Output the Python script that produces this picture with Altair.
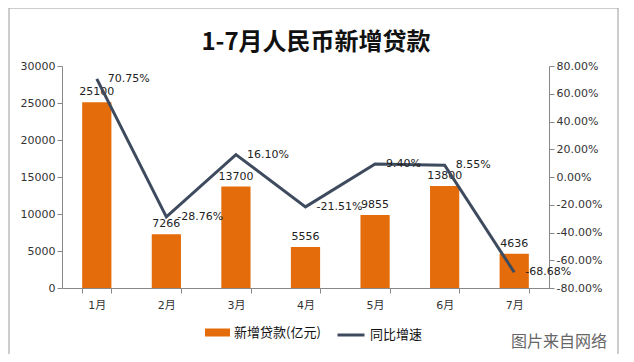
import altair as alt
import pandas as pd

months = ["1月", "2月", "3月", "4月", "5月", "6月", "7月"]
loans = [25100, 7266, 13700, 5556, 9855, 13800, 4636]
growth = [70.75, -28.76, 16.10, -21.51, 9.40, 8.55, -68.68]
bar_name = "新增贷款(亿元)"
line_name = "同比增速"
title_text = "1-7月人民币新增贷款"
watermark = "图片来自网络"
left_ticks = [0, 5000, 10000, 15000, 20000, 25000, 30000]
right_ticks = [-80, -60, -40, -20, 0, 20, 40, 60, 80]

df = pd.DataFrame({"month": months, "loans": loans, "growth": growth})
df["gtxt"] = [f"{g:.2f}%" for g in growth]
df["s1"] = bar_name
df["s2"] = line_name

ORANGE = "#E46C0A"
NAVY = "#3E4B5E"
FONT = "DejaVu Sans, Noto Sans CJK SC"
CJK = "Noto Sans CJK SC"

xenc = alt.X("month:N", sort=months, title=None,
             scale=alt.Scale(paddingInner=0.58, paddingOuter=0.29),
             axis=alt.Axis(labelAngle=0, tickBand="extent", labelFont=FONT,
                           labelFontSize=11, labelColor="#333333", domainColor="#888888",
                           tickColor="#888888", tickSize=5, labelPadding=6))

left_axis = alt.Axis(orient="left", values=left_ticks, format="d", grid=False,
                     labelOverlap=False, labelFont=FONT, labelFontSize=11,
                     labelColor="#333333", domainColor="#888888", tickColor="#888888",
                     tickSize=5)
right_axis = alt.Axis(orient="right", values=right_ticks,
                      labelExpr="replace(format(datum.value, '.2f'), '\u2212', '-') + '%'",
                      grid=False, labelOverlap=False, labelFont=FONT, labelFontSize=11,
                      labelColor="#333333", domainColor="#888888", tickColor="#888888",
                      tickSize=5)
yl_scale = alt.Scale(domain=[0, 30000], nice=False)
yr_scale = alt.Scale(domain=[-80, 80], nice=False)

base = alt.Chart(df)

bars = base.mark_bar(color=ORANGE).encode(
    x=xenc,
    y=alt.Y("loans:Q", title=None, scale=yl_scale, axis=left_axis),
    color=alt.Color("s1:N", scale=alt.Scale(domain=[bar_name], range=[ORANGE]),
                    legend=alt.Legend(title=None, orient="none", legendX=143, legendY=254,
                                      symbolType="M-1,-0.32H1V0.32H-1Z", symbolSize=625,
                                      symbolStrokeWidth=0, labelFont=CJK, labelFontSize=13,
                                      labelColor="#111111", padding=0)),
)
bar_text = base.mark_text(baseline="bottom", dy=-5, font=FONT, fontSize=11, color="#222222").encode(
    x=alt.X("month:N", sort=months),
    y=alt.Y("loans:Q", title=None, scale=yl_scale, axis=left_axis),
    text=alt.Text("loans:Q", format="d"),
)

line = base.mark_line(strokeWidth=3).encode(
    x=alt.X("month:N", sort=months),
    y=alt.Y("growth:Q", title=None, scale=yr_scale, axis=right_axis),
    stroke=alt.Stroke("s2:N", scale=alt.Scale(domain=[line_name], range=[NAVY]),
                      legend=alt.Legend(title=None, orient="none", legendX=274, legendY=254,
                                        symbolType="stroke", symbolSize=729,
                                        symbolStrokeWidth=3, labelFont=CJK, labelFontSize=13,
                                        labelColor="#111111", padding=0)),
)
line_text = base.mark_text(align="left", baseline="middle", dx=11, font=FONT, fontSize=11,
                           color="#222222").encode(
    x=alt.X("month:N", sort=months),
    y=alt.Y("growth:Q", title=None, scale=yr_scale, axis=right_axis),
    text="gtxt:N",
)

deco = pd.DataFrame({"w": [watermark], "t": [title_text]})
frame = alt.Chart(deco).mark_rect(fill=None, stroke="#9a9a9a", strokeWidth=1).encode(
    x=alt.value(-53), x2=alt.value(556), y=alt.value(-58), y2=alt.value(289))
wm = alt.Chart(deco).mark_text(align="left", baseline="middle", font=CJK, fontSize=16,
                               color="#666666").encode(
    x=alt.value(449), y=alt.value(276), text="w:N")
ttl = alt.Chart(deco).mark_text(align="center", baseline="middle", font=CJK, fontSize=24,
                                fontWeight="bold", color="#111111").encode(
    x=alt.value(254), y=alt.value(-23), text="t:N")

left = alt.layer(bars, bar_text)
right = alt.layer(line, line_text)

chart = alt.layer(frame, left, right, wm, ttl).resolve_scale(y="independent").properties(
    width=487, height=222,
    autosize=alt.AutoSizeParams(type="none"),
    padding={"left": 54, "top": 58, "right": 77, "bottom": 66},
    background="white",
).configure_view(stroke=None).configure_axis(labelOverlap=False)

chart.save("out.html", embed_options={"renderer": "svg", "actions": False})
